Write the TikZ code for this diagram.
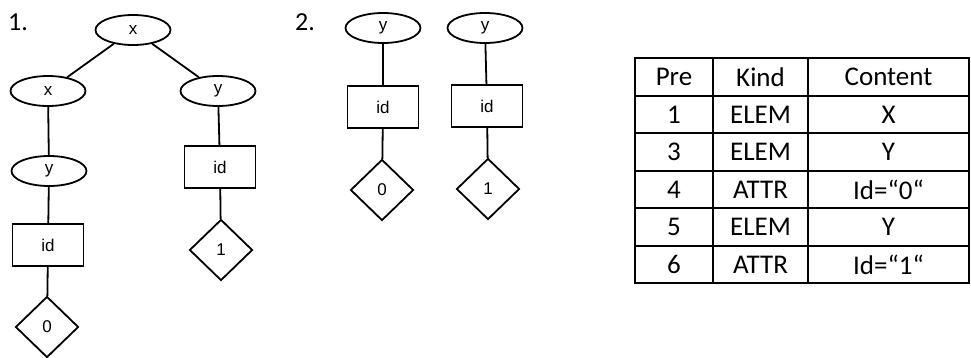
\documentclass[tikz,border=0pt]{standalone}
\usepackage{fontspec}
\setmainfont{Carlito}
\newfontfamily\treefont{Liberation Sans}
\usetikzlibrary{shapes.geometric}
\begin{document}
\begin{tikzpicture}[x=1pt,y=-1pt,
  lw/.style={line width=1.8pt},
  ell/.style={draw, lw, ellipse, minimum width=75pt, minimum height=30pt, inner sep=0pt, font=\treefont\fontsize{17}{17}\selectfont},
  rectbox/.style={draw, lw, rectangle, minimum width=71pt, minimum height=42pt, inner sep=0pt, font=\treefont\fontsize{17}{17}\selectfont},
  dia/.style={draw, lw, diamond, minimum width=63pt, minimum height=61pt, inner sep=0pt, font=\treefont\fontsize{17}{17}\selectfont},
  edge/.style={lw},
  numlabel/.style={font=\fontsize{26}{26}\selectfont, inner sep=0pt},
  cell/.style={font=\fontsize{27}{27}\selectfont, inner sep=0pt, anchor=center}
]
\useasboundingbox (0,0) rectangle (971,358);

% ---- tree 1
\node[numlabel] (n1) at (18,22) {1.};
\node[ell] (t1root) at (133,30) {x};
\node[ell] (t1x) at (48,91) {x};
\node[ell] (t1y) at (218,91) {y};
\node[ell] (t1yy) at (49,171) {y};
\node[rectbox] (t1id0) at (48,245) {id};
\node[dia] (t1v0) at (47,327) {0};
\node[rectbox] (t1id1) at (220,167) {id};
\node[dia] (t1v1) at (221,250) {1};
\draw[edge] (t1root) -- (t1x);
\draw[edge] (t1root) -- (t1y);
\draw[edge] (t1x) -- (t1yy);
\draw[edge] (t1yy) -- (t1id0);
\draw[edge] (t1id0) -- (t1v0);
\draw[edge] (t1y) -- (t1id1);
\draw[edge] (t1id1) -- (t1v1);

% ---- tree 2
\node[numlabel] (n2) at (305,22) {2.};
\node[ell] (t2ya) at (383,28) {y};
\node[ell] (t2yb) at (485,28) {y};
\node[rectbox] (t2ida) at (383,107) {id};
\node[rectbox] (t2idb) at (487,106) {id};
\node[dia] (t2va) at (382,190) {0};
\node[dia] (t2vb) at (488,189) {1};
\draw[edge] (t2ya) -- (t2ida);
\draw[edge] (t2yb) -- (t2idb);
\draw[edge] (t2ida) -- (t2va);
\draw[edge] (t2idb) -- (t2vb);

% ---- table
\draw[lw] (635,58) rectangle (969,283);
\foreach \yy in {96,133,171,208,246} \draw[lw] (635,\yy) -- (969,\yy);
\draw[lw] (713,58) -- (713,283);
\draw[lw] (808,58) -- (808,283);
\node[cell] (h1) at (674,77) {Pre};
\node[cell] (h2) at (760.5,77) {Kind};
\node[cell] (h3) at (888.5,77) {Content};
\node[cell] (r1a) at (674,114.5) {1};
\node[cell] (r1b) at (760.5,114.5) {ELEM};
\node[cell] (r1c) at (888.5,114.5) {X};
\node[cell] (r2a) at (674,152) {3};
\node[cell] (r2b) at (760.5,152) {ELEM};
\node[cell] (r2c) at (888.5,152) {Y};
\node[cell] (r3a) at (674,189.5) {4};
\node[cell] (r3b) at (760.5,189.5) {ATTR};
\node[cell] (r3c) at (888.5,189.5) {Id=“0“};
\node[cell] (r4a) at (674,227) {5};
\node[cell] (r4b) at (760.5,227) {ELEM};
\node[cell] (r4c) at (888.5,227) {Y};
\node[cell] (r5a) at (674,264.5) {6};
\node[cell] (r5b) at (760.5,264.5) {ATTR};
\node[cell] (r5c) at (888.5,264.5) {Id=“1“};
\end{tikzpicture}
\end{document}
